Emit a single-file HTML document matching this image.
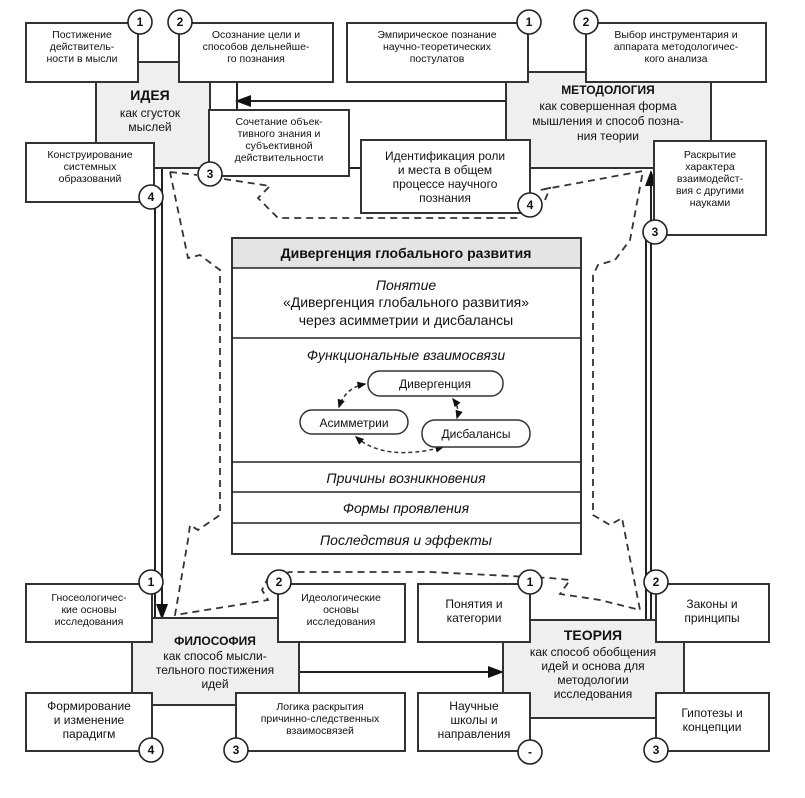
<!DOCTYPE html>
<html><head><meta charset="utf-8"><style>
body{margin:0;background:#fff;}
svg{display:block;font-family:"Liberation Sans",sans-serif;}
.b{fill:#fff;stroke:#333;stroke-width:2;}
.g{fill:#efefef;stroke:#333;stroke-width:2;}
.c{fill:#fff;stroke:#222;stroke-width:1.6;}
.l{stroke:#222;stroke-width:2;fill:none;}
.d{stroke:#333;stroke-width:1.8;fill:none;stroke-dasharray:7,5;}
text{fill:#111;text-anchor:middle;}
.s{font-size:10.5px;}
.m{font-size:12px;}
.n{font-size:12px;font-weight:bold;}
.i{font-size:14px;font-style:italic;}
</style></head><body>
<svg width="805" height="798" viewBox="0 0 805 798">
<defs><marker id="a" markerWidth="8" markerHeight="8" refX="7" refY="4" orient="auto"><path d="M0,1 L8,4 L0,7z" fill="#111"/></marker>
<marker id="s" markerWidth="6" markerHeight="6" refX="5" refY="3" orient="auto-start-reverse"><path d="M0,0.5 L6,3 L0,5.5z" fill="#111"/></marker></defs>
<!-- frame lines -->
<line class="l" x1="155" y1="200" x2="155" y2="618"/>
<line class="l" x1="162" y1="168" x2="162" y2="618" marker-end="url(#a)"/>
<line class="l" x1="646" y1="235" x2="646" y2="620"/>
<line class="l" x1="651" y1="620" x2="651" y2="172" marker-end="url(#a)"/>
<line class="l" x1="154" y1="168" x2="650" y2="168"/>
<line class="l" x1="505" y1="101" x2="237" y2="101" marker-end="url(#a)"/>
<line class="l" x1="237" y1="82" x2="237" y2="110"/>
<line class="l" x1="299" y1="672" x2="502" y2="672" marker-end="url(#a)"/>
<line class="l" x1="138" y1="62" x2="180" y2="62"/>
<line class="l" x1="528" y1="72" x2="586" y2="72"/>
<line class="l" x1="152" y1="618" x2="278" y2="618"/>
<line class="l" x1="530" y1="620" x2="656" y2="620"/>
<line class="l" x1="96" y1="82" x2="96" y2="143"/>
<line class="l" x1="152" y1="705" x2="236" y2="705"/>
<line class="l" x1="530" y1="718" x2="656" y2="718"/>
<!-- dashed -->
<path class="d" d="M170,172 L197,175 M224,179 L270,186 L258,198 L278,218 L518,218 M545,200 L550,188 L540,190 L643,171 L630,240 L615,260 L598,265 L593,275 L593,515 L610,525 L622,518 L640,610 L600,600 L560,594 L570,580 L550,578 L430,572 L290,572 L268,578 L262,590 L268,600 L175,615 L188,540 L190,525 L198,530 L220,515 L220,270 L200,255 L188,258 L170,172"/>
<!-- IDEA -->
<rect class="g" x="96" y="62" width="114" height="106"/>
<text class="n" x="150" y="100" style="font-size:14px">ИДЕЯ</text>
<text class="m" x="150" y="117">как сгусток</text>
<text class="m" x="150" y="131">мыслей</text>
<rect class="b" x="26" y="23" width="112" height="59"/>
<text class="s" x="82" y="38">Постижение</text><text class="s" x="82" y="50">действитель-</text><text class="s" x="82" y="62">ности в мысли</text>
<rect class="b" x="179" y="23" width="154" height="59"/>
<text class="s" x="256" y="38">Осознание цели и</text><text class="s" x="256" y="50">способов дельнейше-</text><text class="s" x="256" y="62">го познания</text>
<rect class="b" x="209" y="110" width="140" height="66"/>
<text class="s" x="279" y="125">Сочетание объек-</text><text class="s" x="279" y="137">тивного знания и</text><text class="s" x="279" y="149">субъективной</text><text class="s" x="279" y="161">действительности</text>
<rect class="b" x="26" y="143" width="128" height="59"/>
<text class="s" x="90" y="158">Конструирование</text><text class="s" x="90" y="170">системных</text><text class="s" x="90" y="182">образований</text>
<!-- METHOD -->
<rect class="g" x="506" y="72" width="205" height="96"/>
<text class="n" x="608" y="94">МЕТОДОЛОГИЯ</text>
<text class="m" x="608" y="110">как совершенная форма</text>
<text class="m" x="608" y="125">мышления и способ позна-</text>
<text class="m" x="608" y="140">ния теории</text>
<rect class="b" x="347" y="23" width="181" height="59"/>
<text class="s" x="437" y="38">Эмпирическое познание</text><text class="s" x="437" y="50">научно-теоретических</text><text class="s" x="437" y="62">постулатов</text>
<rect class="b" x="586" y="23" width="180" height="59"/>
<text class="s" x="676" y="38">Выбор инструментария и</text><text class="s" x="676" y="50">аппарата методологичес-</text><text class="s" x="676" y="62">кого анализа</text>
<rect class="b" x="361" y="140" width="169" height="73"/>
<text class="m" x="445" y="160">Идентификация роли</text><text class="m" x="445" y="174">и места в общем</text><text class="m" x="445" y="188">процессе научного</text><text class="m" x="445" y="202">познания</text>
<rect class="b" x="654" y="141" width="112" height="94"/>
<text class="s" x="710" y="158">Раскрытие</text><text class="s" x="710" y="170">характера</text><text class="s" x="710" y="182">взаимодейст-</text><text class="s" x="710" y="194">вия с другими</text><text class="s" x="710" y="206">науками</text>
<!-- center -->
<rect class="b" x="232" y="238" width="349" height="316"/>
<rect x="233" y="239" width="347" height="29" fill="#e4e4e4"/>
<g class="l" style="stroke-width:1.5"><line x1="232" y1="268" x2="581" y2="268"/><line x1="232" y1="338" x2="581" y2="338"/><line x1="232" y1="462" x2="581" y2="462"/><line x1="232" y1="492" x2="581" y2="492"/><line x1="232" y1="523" x2="581" y2="523"/></g>
<text x="406" y="258" style="font-size:14px;font-weight:bold">Дивергенция глобального развития</text>
<text class="i" x="406" y="290">Понятие</text>
<text x="406" y="307" style="font-size:14px">«Дивергенция глобального развития»</text>
<text x="406" y="325" style="font-size:14px">через асимметрии и дисбалансы</text>
<text class="i" x="406" y="360">Функциональные взаимосвязи</text>
<path class="d" style="stroke-dasharray:4,3;stroke-width:1.5" marker-start="url(#s)" marker-end="url(#s)" d="M365,384 Q345,388 339,407"/>
<path class="d" style="stroke-dasharray:4,3;stroke-width:1.5" marker-start="url(#s)" marker-end="url(#s)" d="M356,437 Q385,462 443,447"/>
<path class="d" style="stroke-dasharray:4,3;stroke-width:1.5" marker-start="url(#s)" marker-end="url(#s)" d="M453,399 Q460,408 457,418"/>
<rect class="b" x="368" y="371" width="135" height="25" rx="12" style="stroke-width:1.5"/>
<text class="m" x="435" y="388">Дивергенция</text>
<rect class="b" x="300" y="410" width="108" height="24" rx="12" style="stroke-width:1.5"/>
<text class="m" x="354" y="427">Асимметрии</text>
<rect class="b" x="422" y="420" width="108" height="27" rx="13" style="stroke-width:1.5"/>
<text class="m" x="476" y="438">Дисбалансы</text>
<text class="i" x="406" y="483">Причины возникновения</text>
<text class="i" x="406" y="513">Формы проявления</text>
<text class="i" x="406" y="545">Последствия и эффекты</text>
<!-- PHIL -->
<rect class="g" x="132" y="618" width="167" height="87"/>
<text class="n" x="215" y="645">ФИЛОСОФИЯ</text>
<text class="m" x="215" y="660">как способ мысли-</text><text class="m" x="215" y="674">тельного постижения</text><text class="m" x="215" y="688">идей</text>
<rect class="b" x="26" y="584" width="126" height="58"/>
<text class="s" x="89" y="601">Гносеологичес-</text><text class="s" x="89" y="613">кие основы</text><text class="s" x="89" y="625">исследования</text>
<rect class="b" x="278" y="584" width="127" height="58"/>
<text class="s" x="341" y="601">Идеологические</text><text class="s" x="341" y="613">основы</text><text class="s" x="341" y="625">исследования</text>
<rect class="b" x="26" y="693" width="126" height="58"/>
<text class="m" x="89" y="710">Формирование</text><text class="m" x="89" y="724">и изменение</text><text class="m" x="89" y="738">парадигм</text>
<rect class="b" x="236" y="693" width="169" height="58"/>
<text class="s" x="320" y="710">Логика раскрытия</text><text class="s" x="320" y="722">причинно-следственных</text><text class="s" x="320" y="734">взаимосвязей</text>
<!-- THEORY -->
<rect class="g" x="503" y="620" width="181" height="98"/>
<text class="n" x="593" y="640" style="font-size:14px">ТЕОРИЯ</text>
<text class="m" x="593" y="656">как способ обобщения</text><text class="m" x="593" y="670">идей и основа для</text><text class="m" x="593" y="684">методологии</text><text class="m" x="593" y="698">исследования</text>
<rect class="b" x="418" y="584" width="112" height="58"/>
<text class="m" x="474" y="608">Понятия и</text><text class="m" x="474" y="622">категории</text>
<rect class="b" x="656" y="584" width="113" height="58"/>
<text class="m" x="712" y="608">Законы и</text><text class="m" x="712" y="622">принципы</text>
<rect class="b" x="418" y="693" width="112" height="58"/>
<text class="m" x="474" y="710">Научные</text><text class="m" x="474" y="724">школы и</text><text class="m" x="474" y="738">направления</text>
<rect class="b" x="656" y="693" width="113" height="58"/>
<text class="m" x="712" y="717">Гипотезы и</text><text class="m" x="712" y="731">концепции</text>
<!-- circles -->
<g font-size="12" font-weight="bold">
<circle class="c" cx="140" cy="22" r="12"/><text x="140" y="26">1</text>
<circle class="c" cx="180" cy="22" r="12"/><text x="180" y="26">2</text>
<circle class="c" cx="210" cy="174" r="12"/><text x="210" y="178">3</text>
<circle class="c" cx="151" cy="197" r="12"/><text x="151" y="201">4</text>
<circle class="c" cx="529" cy="22" r="12"/><text x="529" y="26">1</text>
<circle class="c" cx="586" cy="22" r="12"/><text x="586" y="26">2</text>
<circle class="c" cx="530" cy="205" r="12"/><text x="530" y="209">4</text>
<circle class="c" cx="655" cy="232" r="12"/><text x="655" y="236">3</text>
<circle class="c" cx="151" cy="582" r="12"/><text x="151" y="586">1</text>
<circle class="c" cx="279" cy="582" r="12"/><text x="279" y="586">2</text>
<circle class="c" cx="151" cy="750" r="12"/><text x="151" y="754">4</text>
<circle class="c" cx="236" cy="750" r="12"/><text x="236" y="754">3</text>
<circle class="c" cx="530" cy="582" r="12"/><text x="530" y="586">1</text>
<circle class="c" cx="656" cy="582" r="12"/><text x="656" y="586">2</text>
<circle class="c" cx="530" cy="752" r="12"/><text x="530" y="756">-</text>
<circle class="c" cx="656" cy="750" r="12"/><text x="656" y="754">3</text>
</g>
</svg>
</body></html>
